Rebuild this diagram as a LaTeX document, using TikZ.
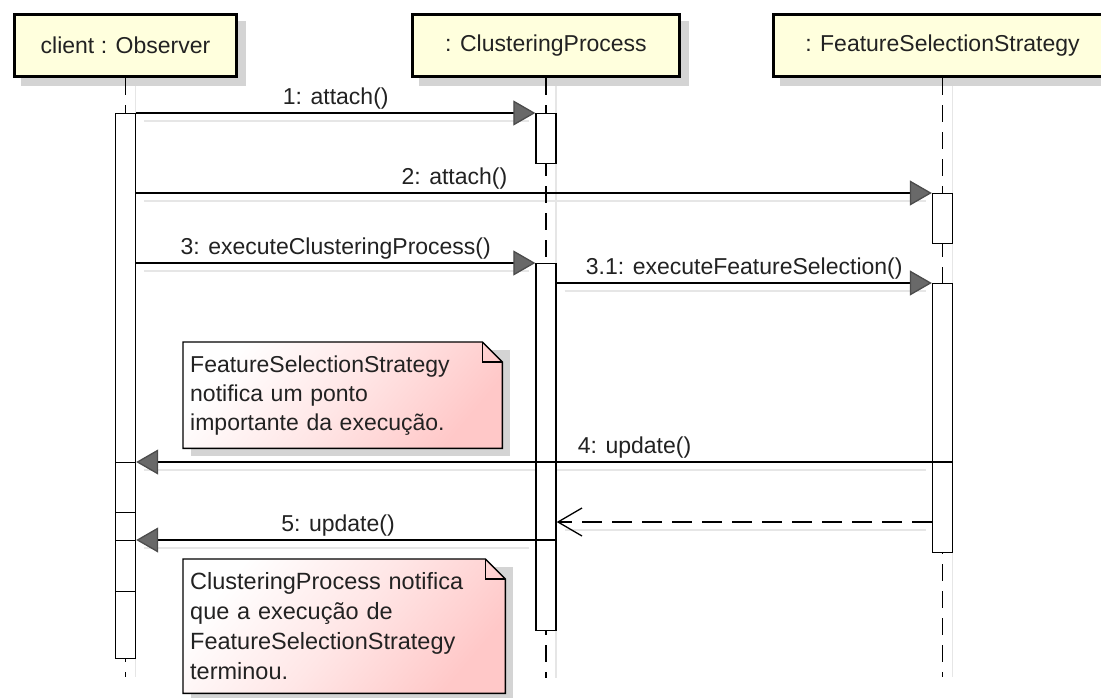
\documentclass[tikz,border=0pt]{standalone}
\usepackage{fontspec}
\setmainfont{Liberation Sans}
\usetikzlibrary{arrows.meta,calc}
\definecolor{headfill}{RGB}{255,255,221}
\definecolor{notepink}{RGB}{255,200,200}
\definecolor{tipgray}{RGB}{105,105,105}
\definecolor{shadowgray}{RGB}{212,212,212}
\definecolor{faintgray}{RGB}{230,230,230}
\definecolor{inkgray}{RGB}{34,34,34}
\pgfdeclarelayer{bg}
\pgfsetlayers{bg,main}

\begin{document}
\begin{tikzpicture}[x=1pt,y=-1pt,
  font=\fontsize{23}{29}\selectfont,
  head/.style={draw=black, line width=3pt, fill=headfill, minimum height=62pt,
    inner sep=0pt, text=inkgray, anchor=north west},
  bar/.style={draw=black, line width=1.4pt, fill=white, minimum width=20pt,
    inner sep=0pt, anchor=north},
  lifeline/.style={line width=1.4pt, dash pattern=on 17pt off 10pt},
  faint/.style={draw=faintgray, line width=1.2pt},
  msg/.style={line width=1.3pt,
    -{Triangle[length=22pt,width=25pt,color=black!70,fill=tipgray]}},
  reply/.style={line width=1.3pt, dash pattern=on 20pt off 10pt,
    -{Straight Barb[length=24pt,width=28pt,line width=1.3pt]}},
  lbl/.style={above, inner sep=3pt, text=inkgray},
  note/.style={anchor=north west, align=left, inner xsep=7pt, inner ysep=0pt,
    text=inkgray},
  notebody/.style={draw=black, line width=1.4pt, top color=white,
    bottom color=notepink, middle color=notepink!45, shading angle=50},
]
\useasboundingbox (0,0) rectangle (1101,697);
\clip (0,0) rectangle (1101,697);
\begin{pgfonlayer}{bg}
  \fill[white] (0,0) rectangle (1101,697);
\end{pgfonlayer}

% lifeline heads
\node[head, minimum width=222pt] (obs) at (13,13) {client : Observer};
\node[head, minimum width=267pt] (cp) at (411,13) {: ClusteringProcess};
\node[head, minimum width=338pt] (fs) at (772,13) {: FeatureSelectionStrategy};

% lifeline ends
\coordinate (obsEnd) at (obs.south |- 0,677);
\coordinate (cpEnd) at (cp.south |- 0,678);
\coordinate (fsEnd) at (fs.south |- 0,677);

\begin{pgfonlayer}{bg}
  \foreach \h in {obs,cp,fs}
    \fill[shadowgray] ($(\h.north west)+(8,8)$) rectangle ($(\h.south east)+(8,8)$);
  \draw[faint] ($(obs.south)+(10,8)$) -- ($(obsEnd)+(10,0)$);
  \draw[faint] ($(cp.south)+(10,8)$) -- ($(cpEnd)+(10,0)$);
  \draw[faint] ($(fs.south)+(10,8)$) -- ($(fsEnd)+(10,0)$);
\end{pgfonlayer}

\draw[lifeline] (obs.south) -- (obsEnd);
\draw[lifeline] (cp.south) -- (cpEnd);
\draw[lifeline] (fs.south) -- (fsEnd);

% activation bars
\node[bar, minimum height=545pt] (ob) at (obs.south |- 0,113) {};
\node[bar, minimum height=50pt] (a4) at (obs.south |- 0,462) {};
\node[bar, minimum height=51pt] (a5) at (obs.south |- 0,540) {};
\node[bar, minimum height=50pt] (cp1) at (cp.south |- 0,113) {};
\node[bar, minimum height=367pt] (cp2) at (cp.south |- 0,263) {};
\node[bar, minimum height=50pt] (fs1) at (fs.south |- 0,193) {};
\node[bar, minimum height=269pt] (fs2) at (fs.south |- 0,283) {};

% faint shadows under the messages
\begin{pgfonlayer}{bg}
  \draw[faint] ($(ob.north east)+(8,8)$) -- ($(cp1.north west)+(-6,8)$);
  \draw[faint] ($(ob.east |- fs1.north)+(8,8)$) -- ($(fs1.north west)+(-6,8)$);
  \draw[faint] ($(ob.east |- cp2.north)+(8,8)$) -- ($(cp2.north west)+(-6,8)$);
  \draw[faint] ($(cp2.east |- fs2.north)+(8,8)$) -- ($(fs2.north west)+(-6,8)$);
  \draw[faint] ($(fs2.west |- a4.north)+(-6,8)$) -- ($(a4.north east)+(8,8)$);
  \draw[faint] ($(fs2.west |- 0,522)+(-6,8)$) -- ($(cp2.east |- 0,522)+(8,8)$);
  \draw[faint] ($(cp2.west |- a5.north)+(-6,8)$) -- ($(a5.north east)+(8,8)$);
\end{pgfonlayer}

% messages
\draw[msg] (ob.north east) -- node[lbl] {1: attach()} (cp1.north west);
\draw[msg] (ob.east |- fs1.north) -- node[lbl, pos=0.4] {2: attach()} (fs1.north west);
\draw[msg] (ob.east |- cp2.north) -- node[lbl] {3: executeClusteringProcess()} (cp2.north west);
\draw[msg] (cp2.east |- fs2.north) -- node[lbl] {3.1: executeFeatureSelection()} (fs2.north west);
\draw[msg] (fs2.east |- a4.north) -- node[lbl, pos=0.39] {4: update()} (a4.north east);
\draw[reply] (fs2.west |- 0,522) -- (cp2.east |- 0,522);
\draw[msg] (cp2.east |- a5.north) -- node[lbl, pos=0.52] {5: update()} (a5.north east);

% notes
\node[note, text width=305pt, minimum height=106pt] (n1) at (183,342)
  {FeatureSelectionStrategy\\notifica um ponto\\importante da execução.};
\node[note, text width=308pt, minimum height=134pt, font=\fontsize{23.5}{30}\selectfont] (n2) at (183,559)
  {ClusteringProcess notifica\\que a execução de\\FeatureSelectionStrategy\\terminou.};

\begin{pgfonlayer}{bg}
  \foreach \n in {n1,n2} {
    \fill[shadowgray] ($(\n.north west)+(8,8)$) rectangle ($(\n.south east)+(8,8)$);
    \path[notebody] (\n.north west) -- ($(\n.north east)+(-20,0)$)
      -- ($(\n.north east)+(0,20)$) -- (\n.south east) -- (\n.south west) -- cycle;
    \draw[line width=1.4pt] ($(\n.north east)+(-20,0)$) -- ($(\n.north east)+(-20,20)$)
      -- ($(\n.north east)+(0,20)$);
  }
\end{pgfonlayer}
\end{tikzpicture}
\end{document}
